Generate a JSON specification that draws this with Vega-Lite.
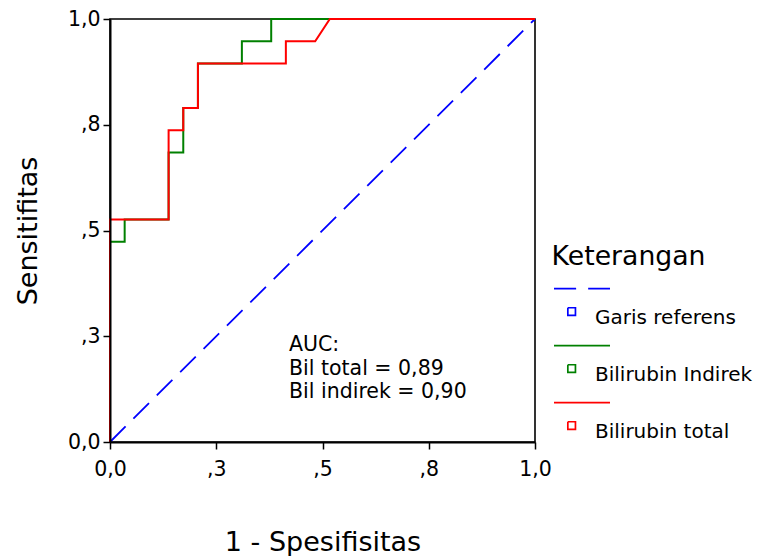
{
  "$schema": "https://vega.github.io/schema/vega-lite/v6.json",
  "width": 425,
  "height": 423,
  "autosize": {"type": "none"},
  "padding": {"left": 110, "top": 19, "right": 222, "bottom": 114},
  "background": "white",
  "config": {
    "view": {"stroke": "black", "strokeWidth": 1.6},
    "font": "DejaVu Sans"
  },
  "datasets": {
    "roc": [
      {"series": "Garis referens", "i": 0, "fpr": 0, "tpr": 0},
      {"series": "Garis referens", "i": 1, "fpr": 1, "tpr": 1},
      {"series": "Bilirubin Indirek", "i": 0, "fpr": 0, "tpr": 0},
      {"series": "Bilirubin Indirek", "i": 1, "fpr": 0, "tpr": 0.4737},
      {"series": "Bilirubin Indirek", "i": 2, "fpr": 0.0345, "tpr": 0.4737},
      {"series": "Bilirubin Indirek", "i": 3, "fpr": 0.0345, "tpr": 0.5263},
      {"series": "Bilirubin Indirek", "i": 4, "fpr": 0.1379, "tpr": 0.5263},
      {"series": "Bilirubin Indirek", "i": 5, "fpr": 0.1379, "tpr": 0.6842},
      {"series": "Bilirubin Indirek", "i": 6, "fpr": 0.1724, "tpr": 0.6842},
      {"series": "Bilirubin Indirek", "i": 7, "fpr": 0.1724, "tpr": 0.7895},
      {"series": "Bilirubin Indirek", "i": 8, "fpr": 0.2069, "tpr": 0.7895},
      {"series": "Bilirubin Indirek", "i": 9, "fpr": 0.2069, "tpr": 0.8947},
      {"series": "Bilirubin Indirek", "i": 10, "fpr": 0.3103, "tpr": 0.8947},
      {"series": "Bilirubin Indirek", "i": 11, "fpr": 0.3103, "tpr": 0.9474},
      {"series": "Bilirubin Indirek", "i": 12, "fpr": 0.3793, "tpr": 0.9474},
      {"series": "Bilirubin Indirek", "i": 13, "fpr": 0.3793, "tpr": 1},
      {"series": "Bilirubin Indirek", "i": 14, "fpr": 1, "tpr": 1},
      {"series": "Bilirubin total", "i": 0, "fpr": 0, "tpr": 0},
      {"series": "Bilirubin total", "i": 1, "fpr": 0, "tpr": 0.5263},
      {"series": "Bilirubin total", "i": 2, "fpr": 0.1379, "tpr": 0.5263},
      {"series": "Bilirubin total", "i": 3, "fpr": 0.1379, "tpr": 0.7368},
      {"series": "Bilirubin total", "i": 4, "fpr": 0.1724, "tpr": 0.7368},
      {"series": "Bilirubin total", "i": 5, "fpr": 0.1724, "tpr": 0.7895},
      {"series": "Bilirubin total", "i": 6, "fpr": 0.2069, "tpr": 0.7895},
      {"series": "Bilirubin total", "i": 7, "fpr": 0.2069, "tpr": 0.8947},
      {"series": "Bilirubin total", "i": 8, "fpr": 0.4138, "tpr": 0.8947},
      {"series": "Bilirubin total", "i": 9, "fpr": 0.4138, "tpr": 0.9474},
      {"series": "Bilirubin total", "i": 10, "fpr": 0.4828, "tpr": 0.9474},
      {"series": "Bilirubin total", "i": 11, "fpr": 0.5172, "tpr": 1},
      {"series": "Bilirubin total", "i": 12, "fpr": 1, "tpr": 1}
    ],
    "auc": [
      {"fpr": 0.4212, "tpr": 0.2151, "t": "AUC:"},
      {"fpr": 0.4212, "tpr": 0.1584, "t": "Bil total = 0,89"},
      {"fpr": 0.4212, "tpr": 0.104, "t": "Bil indirek = 0,90"}
    ]
  },
  "data": {"name": "roc"},
  "encoding": {
    "x": {
      "field": "fpr", "type": "quantitative",
      "scale": {"domain": [0, 1], "nice": false, "zero": false},
      "axis": {
        "title": "1 - Spesifisitas",
        "values": [0, 0.25, 0.5, 0.75, 1],
        "labelExpr": "datum.value === 0 ? '0,0' : datum.value === 1 ? '1,0' : datum.value === 0.25 ? ',3' : datum.value === 0.5 ? ',5' : ',8'",
        "grid": false, "zindex": 1,
        "domainColor": "black", "domainWidth": 2,
        "tickColor": "black", "tickWidth": 1.5, "tickSize": 7,
        "labelFont": "DejaVu Sans", "labelFontSize": 20.5, "labelColor": "black", "labelPadding": 10,
        "labelFlush": false, "labelOverlap": false,
        "titleFont": "DejaVu Sans", "titleFontSize": 27, "titleFontWeight": "normal", "titleColor": "black", "titlePadding": 50
      }
    },
    "y": {
      "field": "tpr", "type": "quantitative",
      "scale": {"domain": [0, 1], "nice": false, "zero": false},
      "axis": {
        "title": "Sensitifitas",
        "values": [0, 0.25, 0.5, 0.75, 1],
        "labelExpr": "datum.value === 0 ? '0,0' : datum.value === 1 ? '1,0' : datum.value === 0.25 ? ',3' : datum.value === 0.5 ? ',5' : ',8'",
        "grid": false, "zindex": 1,
        "domainColor": "black", "domainWidth": 2,
        "tickColor": "black", "tickWidth": 1.5, "tickSize": 7,
        "labelFont": "DejaVu Sans", "labelFontSize": 20.5, "labelColor": "black", "labelPadding": 3,
        "labelFlush": false, "labelOverlap": false,
        "titleFont": "DejaVu Sans", "titleFontSize": 27, "titleFontWeight": "normal", "titleColor": "black", "titlePadding": 25,
        "encode": {"labels": {"update": {"dy": {"signal": "datum.value === 0 ? -10 : datum.value === 0.5 ? -5 : 0"}}}}
      }
    }
  },
  "layer": [
    {
      "transform": [{"filter": "datum.series === 'Garis referens'"}],
      "mark": {"type": "line", "strokeWidth": 1.8, "strokeDash": [22, 11], "strokeCap": "butt"},
      "encoding": {
        "order": {"field": "i", "type": "quantitative"},
        "color": {
          "field": "series", "type": "nominal",
          "scale": {"domain": ["Garis referens", "Bilirubin Indirek", "Bilirubin total"], "range": ["#0000ff", "#008000", "#ff0000"]},
          "legend": {
            "orient": "none", "legendX": 441.6, "legendY": 224.5,
            "title": "Keterangan", "titleFont": "DejaVu Sans", "titleFontSize": 26.7, "titleFontWeight": "normal", "titleColor": "black", "titlePadding": 18.8,
            "labelFont": "DejaVu Sans", "labelFontSize": 20, "labelColor": "black", "labelOffset": -16, "labelLimit": 400,
            "symbolSize": 3136, "symbolOffset": 1.4, "symbolStrokeWidth": 1.7, "rowPadding": 14, "padding": 0,
            "encode": {
              "symbols": {
                "update": {
                  "shape": {"signal": "datum.value === 'Garis referens' ? 'M-1,-1.05L-0.21,-1.05M0.22,-1.05L1,-1.05M-0.506,-0.366L-0.234,-0.366L-0.234,-0.094L-0.506,-0.094Z' : 'M-1,-1.05L1,-1.05M-0.506,-0.366L-0.234,-0.366L-0.234,-0.094L-0.506,-0.094Z'"},
                  "fill": {"value": "transparent"},
                  "strokeDash": {"value": [1000, 0]},
                  "strokeWidth": {"value": 1.7},
                  "opacity": {"value": 1}
                }
              }
            }
          }
        }
      }
    },
    {
      "transform": [{"filter": "datum.series === 'Bilirubin Indirek'"}],
      "mark": {"type": "line", "strokeWidth": 2},
      "encoding": {
        "order": {"field": "i", "type": "quantitative"},
        "color": {
          "field": "series", "type": "nominal",
          "scale": {"domain": ["Garis referens", "Bilirubin Indirek", "Bilirubin total"], "range": ["#0000ff", "#008000", "#ff0000"]}
        }
      }
    },
    {
      "transform": [{"filter": "datum.series === 'Bilirubin total'"}],
      "mark": {"type": "line", "strokeWidth": 2},
      "encoding": {
        "order": {"field": "i", "type": "quantitative"},
        "color": {
          "field": "series", "type": "nominal",
          "scale": {"domain": ["Garis referens", "Bilirubin Indirek", "Bilirubin total"], "range": ["#0000ff", "#008000", "#ff0000"]}
        }
      }
    },
    {
      "data": {"name": "auc"},
      "mark": {"type": "text", "align": "left", "baseline": "alphabetic", "font": "DejaVu Sans", "fontSize": 20.5, "color": "black"},
      "encoding": {"text": {"field": "t", "type": "nominal"}}
    }
  ]
}
